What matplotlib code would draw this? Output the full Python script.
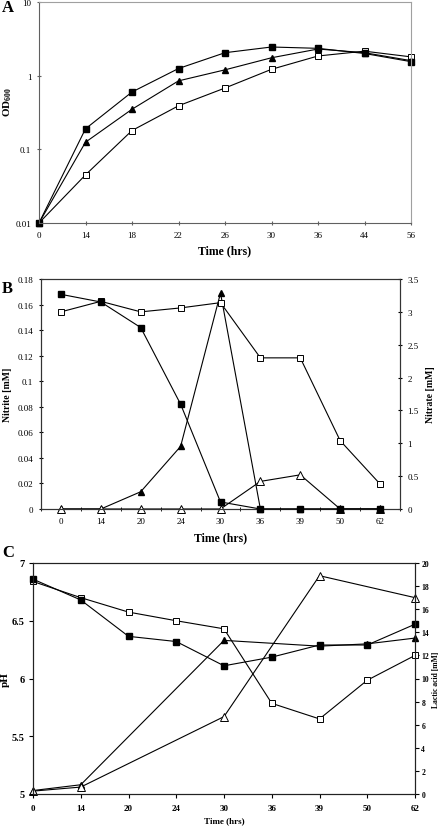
import numpy as np
import matplotlib
matplotlib.use('Agg')
import matplotlib.pyplot as plt

plt.rcParams['font.family'] = ['Liberation Serif', 'DejaVu Serif']
plt.rcParams['mathtext.fontset'] = 'custom'
plt.rcParams['mathtext.rm'] = 'Liberation Serif'
plt.rcParams['mathtext.bf'] = 'Liberation Serif:bold'

# ---- panel A : growth (OD600) ----
a_time = ['0', '14', '18', '22', '26', '30', '36', '44', '56']
a_fsq = [0.01, 0.19, 0.6, 1.25, 2.05, 2.45, 2.35, 2.0, 1.55]
a_ftri = [0.01, 0.125, 0.35, 0.85, 1.2, 1.75, 2.3, 2.05, 1.6]
a_osq = [0.01, 0.045, 0.18, 0.39, 0.68, 1.22, 1.85, 2.15, 1.8]

# ---- panel B : nitrite / nitrate ----
b_time = ['0', '14', '20', '24', '30', '36', '39', '50', '62']
b_fsq = [0.168, 0.162, 0.142, 0.082, 0.0055, 0, 0, 0, 0]          # nitrite
b_ftri = [0, 0, 0.0135, 0.049, 0.169, 0, 0, 0, 0]                 # nitrite
b_osq = [3.0, 3.16, 3.0, 3.06, 3.14, 2.3, 2.3, 1.04, 0.38]        # nitrate
b_otri = [0, 0, 0, 0, 0, 0.42, 0.52, 0, 0]                        # nitrate

# ---- panel C : pH / lactic acid ----
c_time = ['0', '14', '20', '24', '30', '36', '39', '50', '62']
c_fsq = [6.86, 6.68, 6.365, 6.32, 6.11, 6.185, 6.29, 6.29, 6.47]   # pH
c_osq = [6.84, 6.70, 6.575, 6.50, 6.43, 5.785, 5.65, 5.985, 6.20]  # pH
c_ftri_idx = [0, 1, 4, 6, 7, 8]
c_ftri = [0.3, 0.8, 13.3, 12.8, 13.0, 13.5]                          # lactic acid
c_otri_idx = [0, 1, 4, 6, 8]
c_otri = [0.25, 0.6, 6.7, 18.9, 17.0]                                # lactic acid

W, H = 448, 828
fig = plt.figure(figsize=(W / 100, H / 100), dpi=100)

def box(l, t, r, b):
    return [l / W, 1 - b / H, (r - l) / W, (b - t) / H]

lw = 0.8
ms = 4.3
fsq = dict(marker='s', color='k', mfc='k', mec='k', lw=lw, ms=ms, clip_on=False)
osq = dict(marker='s', color='k', mfc='white', mec='k', lw=lw, ms=ms, mew=0.7, clip_on=False)
ftri = dict(marker='^', color='k', mfc='k', mec='k', lw=lw, ms=ms + 0.6, clip_on=False)
otri = dict(marker='^', color='k', mfc='white', mec='k', lw=lw, ms=ms + 1.4, mew=0.7, clip_on=False)

# ================= A =================
ax = fig.add_axes(box(39, 3, 411, 224))
x = np.arange(len(a_time))
ax.plot(x, a_osq, **osq)
ax.plot(x, a_ftri, **ftri)
ax.plot(x, a_fsq, **fsq)
ax.set_yscale('log')
ax.set_ylim(0.01, 10)
ax.set_xlim(0, 8)
ax.set_yticks([0.01, 0.1, 1, 10])
ax.set_yticklabels(['0.01', '0.1', '1', '10'])
ax.minorticks_off()
ax.set_xticks(x)
ax.set_xticklabels(a_time)
for s in ax.spines.values():
    s.set_color('#a0a0a0')
    s.set_linewidth(0.8)
ax.spines['left'].set_color('#606060')
ax.spines['bottom'].set_color('#606060')
ax.tick_params(labelsize=6.5, length=3, direction='inout', color='#606060', pad=4)
ax.set_xlabel('Time (hrs)', fontsize=8.5, fontweight='bold', labelpad=4)
ax.set_ylabel(r'OD$_{\mathbf{600}}$', fontsize=8, fontweight='bold')
ax.yaxis.set_label_coords(-0.066, 0.55)
fig.text(2 / W, 1 - 8 / H, 'A', fontsize=12, fontweight='bold', va='center')

# ================= B =================
ax = fig.add_axes(box(41, 280, 400, 510))
ax2 = ax.twinx()
ax3 = ax.twinx()
x = np.arange(len(b_time))
ax.plot(x, b_ftri, **ftri)
ax2.plot(x, b_otri, **otri)
ax2.plot(x, b_osq, **osq)
ax3.plot(x, b_fsq, **fsq)
ax.set_xlim(-0.5, 8.5)
ax.set_ylim(0, 0.18)
ax3.set_ylim(0, 0.18)
ax3.axis('off')
ax2.set_ylim(0, 3.5)
ax.set_yticks(np.arange(0, 0.181, 0.02))
ax.set_yticklabels(['0', '0.02', '0.04', '0.06', '0.08', '0.1', '0.12', '0.14', '0.16', '0.18'])
ax2.set_yticks(np.arange(0, 3.51, 0.5))
ax2.set_yticklabels(['0', '0.5', '1', '1.5', '2', '2.5', '3', '3.5'])
ax.set_xticks(x)
ax.set_xticklabels(b_time)
ax.set_xticks(np.arange(-0.5, 9, 1), minor=True)
ax.tick_params(axis='x', which='major', length=0, labelsize=6.5, pad=6)
ax.tick_params(axis='x', which='minor', length=3, direction='inout')
ax.tick_params(axis='y', labelsize=6.5, length=3, direction='inout', pad=4)
ax2.tick_params(axis='y', labelsize=6.5, length=3, direction='inout', pad=4)
for a in (ax, ax2):
    for s in a.spines.values():
        s.set_color('#333333')
        s.set_linewidth(0.8)
ax.set_xlabel('Time (hrs)', fontsize=8.5, fontweight='bold', labelpad=4)
ax.set_ylabel('Nitrite [mM]', fontsize=7, fontweight='bold', labelpad=4)
ax2.set_ylabel('Nitrate [mM]', fontsize=7, fontweight='bold', rotation=90, labelpad=5)
fig.text(2 / W, 1 - 289 / H, 'B', fontsize=12, fontweight='bold', va='center')

# ================= C =================
ax = fig.add_axes(box(33, 564, 415, 795))
ax2 = ax.twinx()
x = np.arange(len(c_time))
ax2.plot(np.array(c_ftri_idx), c_ftri, **ftri)
ax2.plot(np.array(c_otri_idx), c_otri, **otri)
ax.set_zorder(ax2.get_zorder() + 1)
ax.patch.set_visible(False)
ax.plot(x, c_osq, **osq)
ax.plot(x, c_fsq, **fsq)
ax.set_xlim(0, 8)
ax.set_ylim(5, 7)
ax2.set_ylim(0, 20)
ax.set_yticks([5, 5.5, 6, 6.5, 7])
ax.set_yticklabels(['5', '5.5', '6', '6.5', '7'])
ax2.set_yticks(np.arange(0, 21, 2))
ax.set_xticks(x)
ax.set_xticklabels(c_time)
for lab in ax.get_xticklabels() + ax.get_yticklabels() + ax2.get_yticklabels():
    lab.set_fontweight('bold')
ax.tick_params(axis='x', labelsize=6.5, length=3, pad=4)
ax.tick_params(axis='y', labelsize=7.5, length=3, pad=3)
ax2.tick_params(axis='y', labelsize=5.5, length=3, pad=1.5)
for a in (ax, ax2):
    for s in a.spines.values():
        s.set_color('#222222')
        s.set_linewidth(0.8)
ax.set_xlabel('Time (hrs)', fontsize=6.5, fontweight='bold', labelpad=3)
ax.set_ylabel('pH', fontsize=8, fontweight='bold')
ax.yaxis.set_label_coords(-0.062, 0.5)
ax2.set_ylabel('Lactic acid [mM]', fontsize=5.5, fontweight='bold', rotation=90, labelpad=2)
fig.text(2 / W, 1 - 553 / H, 'C', fontsize=12, fontweight='bold', va='center')

fig.savefig('out.png', dpi=100)
